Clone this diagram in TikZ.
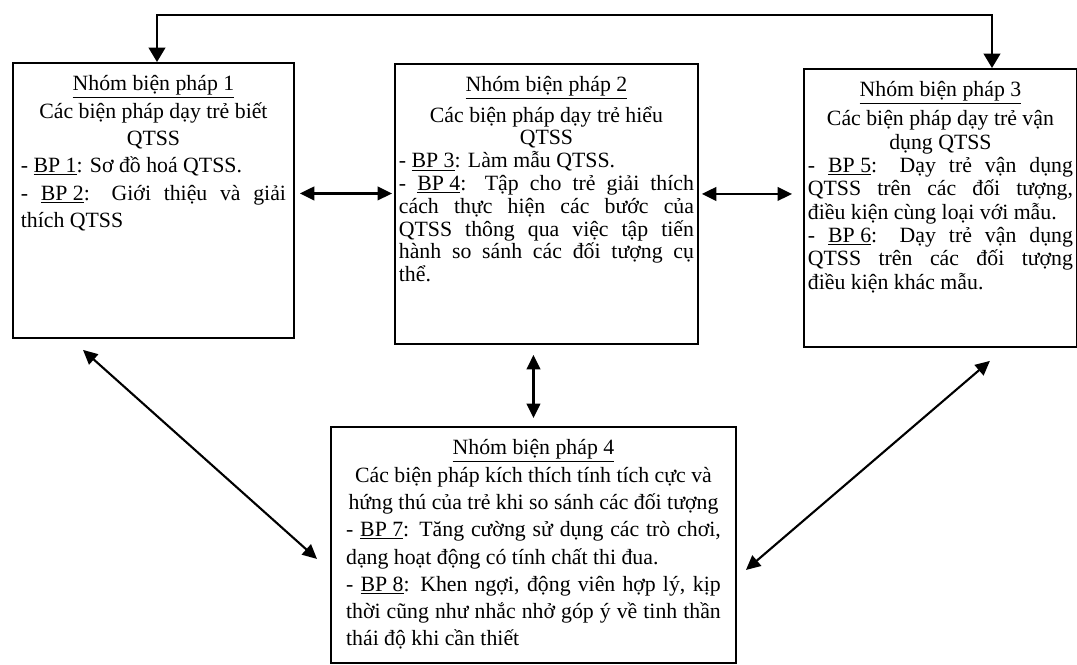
\documentclass[tikz,border=0pt]{standalone}
\usepackage{fontspec}
\setmainfont{Liberation Serif}
\usetikzlibrary{arrows.meta,calc}

\tikzset{
    bpbox/.style={draw, line width=1.3pt, anchor=north west, inner xsep=0.1cm, inner ysep=0.32cm},
    bparrow/.style={{Triangle[length=0.36cm,width=0.34cm]}-{Triangle[length=0.36cm,width=0.34cm]}, line width=1.5pt},
    bpfeed/.style={{Triangle[length=0.36cm,width=0.42cm]}-{Triangle[length=0.36cm,width=0.42cm]}, line width=1.2pt}
}

\begin{document}
\begin{tikzpicture}[x=0.025cm, y=-0.025cm]
            \useasboundingbox (0,0) rectangle (1077,664);%

            % Box for group 1
            \node [bpbox, inner xsep=0.2cm] (g1) at (12,62) {\begin{minipage}[t][6.235cm][t]{6.625cm}\fontsize{15.5}{19.4}\selectfont
                {\centering \underline{Nhóm biện pháp 1}\\ Các biện pháp dạy trẻ biết\\ QTSS\par}
                - \underline{BP 1}: Sơ đồ hoá QTSS.\par
                - \underline{BP 2}: Giới thiệu và giải\linebreak thích QTSS\par
            \end{minipage}};%

            % Box for group 2
            \node [bpbox] (g2) at (394,63) {\begin{minipage}[t][6.36cm][t]{7.375cm}\fontsize{15.5}{16.2}\selectfont
                {\centering \underline{Nhóm biện pháp 2}\\[4pt] Các biện pháp dạy trẻ hiểu\\ QTSS\par}
                - \underline{BP 3}: Làm mẫu QTSS.\par
                - \underline{BP 4}: Tập cho trẻ giải thích\linebreak cách thực hiện các bước của\linebreak QTSS thông qua việc tập tiến\linebreak hành so sánh các đối tượng cụ\linebreak thể.\par
            \end{minipage}};%

            % Box for group 3
            \node [bpbox] (g3) at (803,68) {\begin{minipage}[t][6.31cm][t]{6.625cm}\fontsize{15.5}{16.6}\selectfont
                {\centering \underline{Nhóm biện pháp 3}\\[4pt] Các biện pháp dạy trẻ vận\\ dụng QTSS\par}
                - \underline{BP 5}: Dạy trẻ vận dụng\linebreak QTSS trên các đối tượng,\linebreak điều kiện cùng loại với mẫu.\par
                - \underline{BP 6}: Dạy trẻ vận dụng\linebreak QTSS trên các đối tượng\linebreak điều kiện khác mẫu.\par
            \end{minipage}};%

            % Box for group 4
            \node [bpbox, inner xsep=0.38cm] (g4) at (330,426) {\begin{minipage}[t][5.26cm][t]{9.365cm}\fontsize{15.5}{19.4}\selectfont
                {\centering \underline{Nhóm biện pháp 4}\\ Các biện pháp kích thích tính tích cực và\\ hứng thú của trẻ khi so sánh các đối tượng\par}
                - \underline{BP 7}: Tăng cường sử dụng các trò chơi,\linebreak dạng hoạt động có tính chất thi đua.\par
                - \underline{BP 8}: Khen ngợi, động viên hợp lý, kịp\linebreak thời cũng như nhắc nhở góp ý về tinh thần\linebreak thái độ khi cần thiết\par
            \end{minipage}};%

            % Feedback line between group 1 and group 3
            \coordinate (fbl) at (157,15);%
            \coordinate (fbr) at (992,15);%
            \draw [bpfeed] (fbl |- g1.north) -- (fbl) -- (fbr) -- (fbr |- g3.north);%

            % Arrows between neighbouring groups
            \draw [bparrow] ($(g1.east)+(5,-7)$) -- ($(g1.east -| g2.west)+(-2,-7)$);%
            \draw [bparrow] ($(g2.east)+(3,-10)$) -- ($(g2.east -| g3.west)+(-11,-10)$);%
            \draw [bparrow] ($(g4.north |- g2.south)+(0,10)$) -- ($(g4.north)+(0,-8)$);%

            % Diagonal arrows to group 4
            \draw [bparrow] ($(g1.south west)+(71,11)$) -- ($(g4.west)+(-13,14)$);%
            \draw [bparrow] ($(g3.south east)+(-88,13)$) -- ($(g4.east)+(9,25)$);%
\end{tikzpicture}
\end{document}
